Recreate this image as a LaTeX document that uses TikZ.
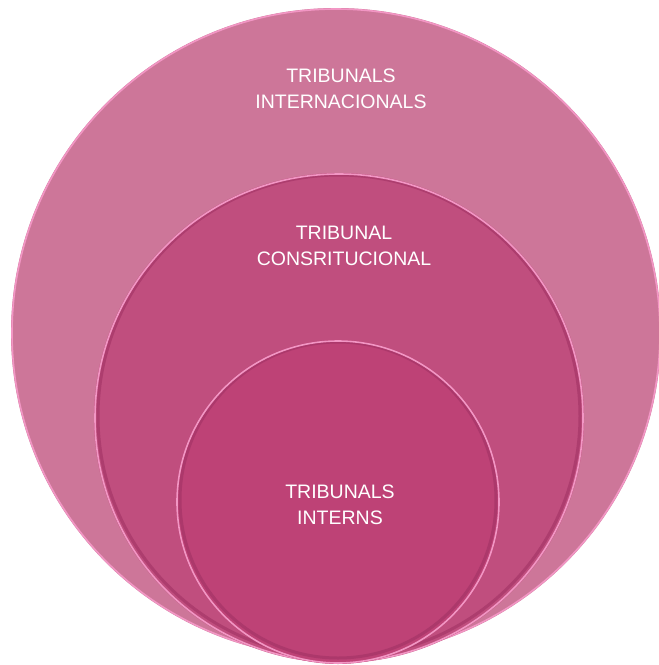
\documentclass[tikz,border=0pt]{standalone}
\usepackage{fontspec}
\setmainfont{Liberation Sans}
\definecolor{outerc}{RGB}{205,118,153}
\definecolor{midc}{RGB}{192,78,126}
\definecolor{innerc}{RGB}{190,66,118}
\definecolor{rimc}{RGB}{242,150,196}
\definecolor{shadec}{RGB}{160,50,100}
\begin{document}
\begin{tikzpicture}[x=1pt,y=-1pt,
  ring/.style={draw=rimc,line width=1.6pt},
  lbl/.style={text=white,align=center,font=\fontsize{19.5}{26}\selectfont}]
\path[use as bounding box] (0,0) rectangle (659,665);
\fill[white] (0,0) rectangle (659,665);
% outer
\coordinate (co) at (336,333);
\fill[outerc] (co) circle (325pt);
\draw[ring] (co) circle (324pt);
% middle
\coordinate (cm) at (339,418);
\fill[midc] (cm) circle (245pt);
\draw[shadec!60!midc,line width=3pt] (cm) ++(0,-2) circle (241pt);
\draw[ring] (cm) circle (244pt);
% inner
\coordinate (ci) at (338,502);
\fill[innerc] (ci) circle (162pt);
\draw[shadec!60!innerc,line width=3pt] (ci) ++(0,-2) circle (158pt);
\draw[ring] (ci) circle (161pt);
% labels
\node[lbl] (t1) at (341,89) {TRIBUNALS\\INTERNACIONALS};
\node[lbl] (t2) at (344,246) {TRIBUNAL\\CONSRITUCIONAL};
\node[lbl] (t3) at (340,505) {TRIBUNALS\\INTERNS};
\end{tikzpicture}
\end{document}
